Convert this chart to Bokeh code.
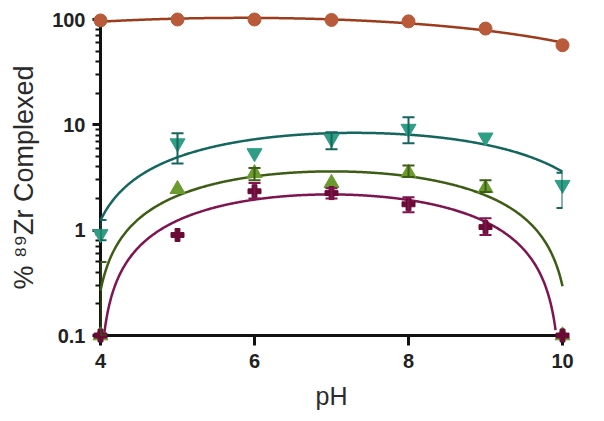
import numpy as np
from bokeh.plotting import figure
from bokeh.models import (Range1d, ColumnDataSource, Whisker, TeeHead,
                          FixedTicker, CustomJSTickFormatter)
from bokeh.embed import file_html
from bokeh.resources import INLINE

# ---- data ----
ph = [4, 5, 6, 7, 8, 9, 10]
orange_y = [98, 100, 100, 99, 96, 82, 57]
teal_y = [0.92, 6.7, 5.4, 7.4, 9.2, 7.6, 2.7]
green_y = [0.1, 2.45, 3.47, 2.8, 3.5, 2.5, 0.1]
purple_y = [0.1, 0.9, 2.34, 2.25, 1.76, 1.07, 0.1]

teal_err_ph = [4, 5, 7, 8, 10]
teal_err_lo = [0.8, 4.3, 5.86, 6.7, 1.62]
teal_err_hi = [1.25, 8.3, 8.5, 11.8, 3.5]
green_err_ph = [4, 6, 8, 9]
green_err_lo = [0.1, 2.97, 3.2, 2.3]
green_err_hi = [0.5, 3.9, 4.1, 2.97]
purple_err_ph = [6, 7, 8, 9]
purple_err_lo = [2.0, 2.0, 1.48, 0.9]
purple_err_hi = [2.8, 2.5, 2.05, 1.3]

x_ticks = [4, 6, 8, 10]
y_ticks = [0.1, 1, 10, 100]
y_minor = [m * 10.0 ** k for k in (-1, 0, 1) for m in range(2, 10)]

# colours
ORANGE_M, ORANGE_L = "#B95B3A", "#9C3C1C"
TEAL_M, TEAL_L = "#2E9E84", "#15665E"
GREEN_M, GREEN_L = "#6B9A2E", "#3D5C14"
PURPLE_M, PURPLE_L = "#6A0B35", "#7E1550"

FONT = "Liberation Sans"

p = figure(width=600, height=415,
           x_range=Range1d(4, 10), y_range=Range1d(0.1, 100),
           y_axis_type="log", output_backend="svg", toolbar_location=None,
           min_border_left=100, min_border_right=38, min_border_top=19,
           min_border_bottom=80)
p.outline_line_color = None
p.grid.visible = False
p.background_fill_color = "white"

# ---- fitted second-order polynomial curves (from the data) ----
xs = np.linspace(4, 10, 600)


def fit_curve(y):
    coef = np.polyfit(ph, y, 2)
    yy = np.polyval(coef, xs)
    yy = np.where(yy >= 0.1, yy, np.nan)
    return yy


for ys, col in [(orange_y, ORANGE_L), (teal_y, TEAL_L),
                (green_y, GREEN_L), (purple_y, PURPLE_L)]:
    p.line(xs, fit_curve(ys), line_color=col, line_width=2.5, level="overlay")

# ---- error bars ----
for xe, lo, hi, col in [(teal_err_ph, teal_err_lo, teal_err_hi, TEAL_L),
                        (green_err_ph, green_err_lo, green_err_hi, GREEN_L),
                        (purple_err_ph, purple_err_lo, purple_err_hi, PURPLE_L)]:
    src = ColumnDataSource(dict(x=xe, lo=lo, hi=hi))
    w = Whisker(base="x", lower="lo", upper="hi", source=src,
                line_color=col, line_width=2, level="overlay",
                upper_head=TeeHead(size=12, line_color=col, line_width=2),
                lower_head=TeeHead(size=12, line_color=col, line_width=2))
    p.add_layout(w)

# ---- markers ----
p.scatter(ph, orange_y, marker="circle", size=13, fill_color=ORANGE_M,
          line_color=ORANGE_M, level="overlay")
p.scatter(ph, teal_y, marker="inverted_triangle", size=15, fill_color=TEAL_M,
          line_color=TEAL_M, level="overlay")
p.scatter(ph, green_y, marker="triangle", size=15, fill_color=GREEN_M,
          line_color=GREEN_M, level="overlay")
p.scatter(ph, purple_y, marker="plus", size=13, fill_color=PURPLE_M,
          line_color=PURPLE_M, level="overlay")

# ---- axes ----
xa = p.xaxis[0]
xa.ticker = FixedTicker(ticks=x_ticks)
xa.axis_line_width = 3
xa.axis_line_color = "#111111"
xa.major_tick_line_width = 3
xa.major_tick_line_color = "#111111"
xa.major_tick_out = 10
xa.major_tick_in = 0
xa.minor_tick_line_color = None
xa.major_label_text_font = FONT
xa.major_label_text_font_style = "bold"
xa.major_label_text_font_size = "20px"
xa.major_label_text_color = "#222222"
xa.major_label_standoff = 8
xa.axis_label = "pH"
xa.axis_label_text_font = FONT
xa.axis_label_text_font_style = "normal"
xa.axis_label_text_font_size = "25px"
xa.axis_label_text_color = "#2b2b2b"
xa.axis_label_standoff = 11

ya = p.yaxis[0]
ya.ticker = FixedTicker(ticks=y_ticks, minor_ticks=y_minor)
ya.formatter = CustomJSTickFormatter(code="return String(tick)")
ya.axis_line_width = 3
ya.axis_line_color = "#111111"
ya.major_tick_line_width = 3
ya.major_tick_line_color = "#111111"
ya.major_tick_out = 8
ya.major_tick_in = 0
ya.minor_tick_line_width = 2
ya.minor_tick_line_color = "#111111"
ya.minor_tick_out = 5
ya.minor_tick_in = 0
ya.major_label_text_font = FONT
ya.major_label_text_font_style = "bold"
ya.major_label_text_font_size = "20px"
ya.major_label_text_color = "#222222"
ya.major_label_standoff = 7
ya.axis_label = "% \u2078\u2079Zr Complexed"
ya.axis_label_text_font = FONT
ya.axis_label_text_font_style = "normal"
ya.axis_label_text_font_size = "27px"
ya.axis_label_text_color = "#2b2b2b"
ya.axis_label_standoff = 10

open("out.html", "w").write(file_html(p, INLINE))
